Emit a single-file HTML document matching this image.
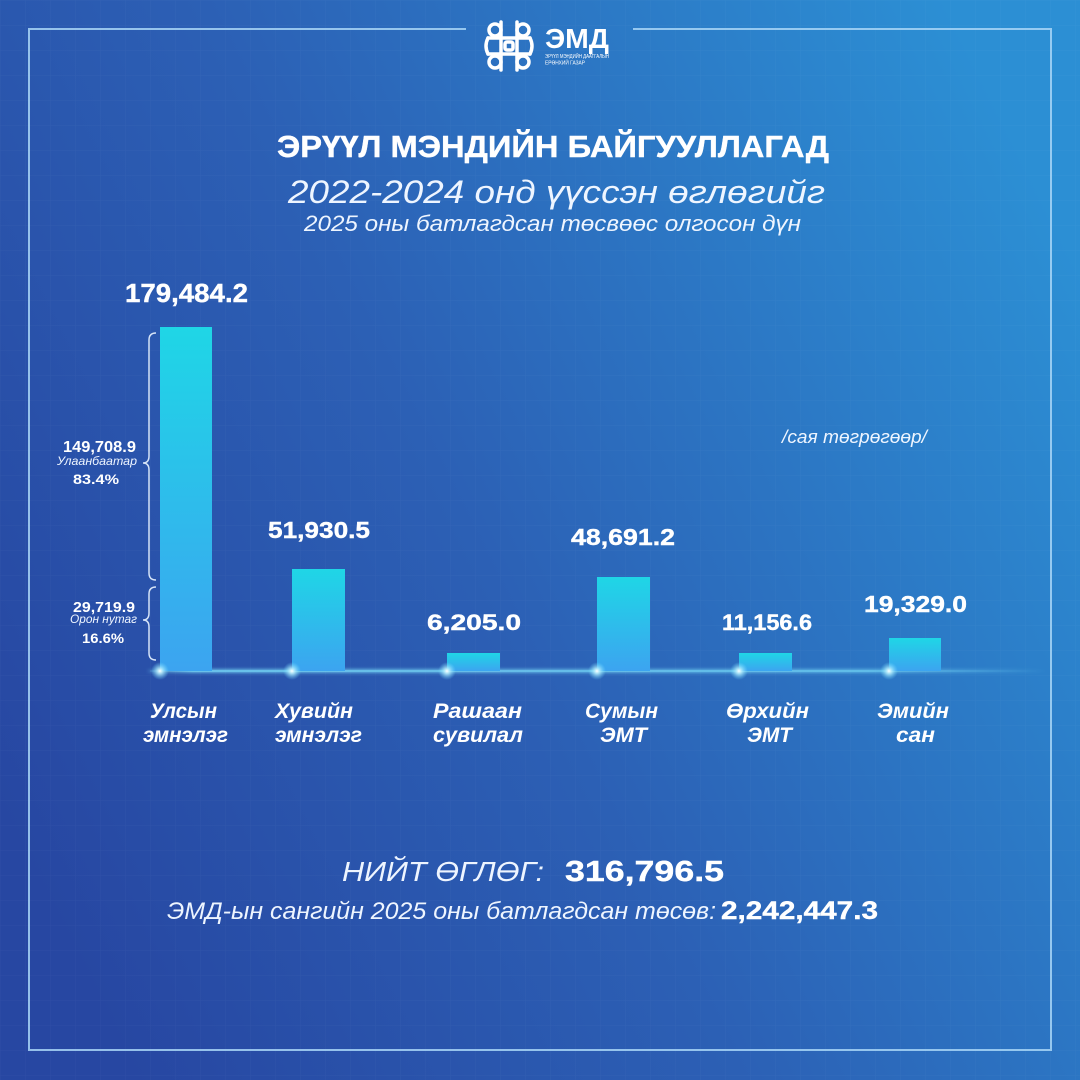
<!DOCTYPE html>
<html>
<head>
<meta charset="utf-8">
<style>
html,body{margin:0;padding:0;width:1080px;height:1080px;overflow:hidden;background:#2c5fb4;}
svg{display:block;}
text{font-family:"Liberation Sans","DejaVu Sans",sans-serif;fill:#ffffff;}
.b{font-weight:bold;}
.i{font-style:italic;}
.lt{fill:#eef5ff;}
.v{stroke:#ffffff;stroke-width:0.4;}
</style>
</head>
<body>
<svg width="1080" height="1080" viewBox="0 0 1080 1080" xmlns="http://www.w3.org/2000/svg">
<defs>
  <linearGradient id="bg" x1="0" y1="0.75" x2="1" y2="0.25">
    <stop offset="0" stop-color="#2747a2"/>
    <stop offset="0.45" stop-color="#2c60b5"/>
    <stop offset="1" stop-color="#2c8fd4"/>
  </linearGradient>
  <pattern id="grid" width="25" height="25" patternUnits="userSpaceOnUse">
    <path d="M25 0 L0 0 0 25" fill="none" stroke="#ffffff" stroke-opacity="0.04" stroke-width="1"/>
  </pattern>
  <linearGradient id="bar" x1="0" y1="0" x2="0" y2="1">
    <stop offset="0" stop-color="#1fd6e6"/>
    <stop offset="1" stop-color="#3ca4f0"/>
  </linearGradient>
  <linearGradient id="base" x1="0" y1="0" x2="1" y2="0">
    <stop offset="0" stop-color="#7fe6ff" stop-opacity="0.2"/>
    <stop offset="0.05" stop-color="#7fe6ff" stop-opacity="0.9"/>
    <stop offset="0.8" stop-color="#7fe6ff" stop-opacity="0.7"/>
    <stop offset="1" stop-color="#7fe6ff" stop-opacity="0"/>
  </linearGradient>
  <radialGradient id="dot">
    <stop offset="0" stop-color="#ffffff" stop-opacity="1"/>
    <stop offset="0.3" stop-color="#bff4ff" stop-opacity="0.8"/>
    <stop offset="1" stop-color="#6fdcff" stop-opacity="0"/>
  </radialGradient>
  <filter id="gl" x="-20%" y="-200%" width="140%" height="500%">
    <feGaussianBlur stdDeviation="1.5"/>
  </filter>
</defs>

<rect width="1080" height="1080" fill="url(#bg)"/>
<rect width="1080" height="1080" fill="url(#grid)"/>

<!-- frame -->
<g stroke="#a9d6f7" stroke-opacity="0.85" stroke-width="2" fill="none">
  <path d="M466 29 L29 29 L29 1050 L1051 1050 L1051 29 L633 29"/>
</g>

<!-- logo -->
<g fill="none" stroke="#ffffff" stroke-width="3.5" stroke-linecap="round">
  <circle cx="495" cy="30" r="6"/>
  <circle cx="523" cy="30" r="6"/>
  <circle cx="495" cy="62" r="6"/>
  <circle cx="523" cy="62" r="6"/>
  <line x1="501" y1="22" x2="501" y2="70"/>
  <line x1="517" y1="22" x2="517" y2="70"/>
  <line x1="488" y1="38" x2="530" y2="38"/>
  <line x1="488" y1="54" x2="530" y2="54"/>
  <path d="M488 38 Q484 46 488 54"/>
  <path d="M530 38 Q534 46 530 54"/>
  <rect x="505" y="42" width="8" height="8" rx="2"/>
</g>
<text x="545" y="48" class="b" font-size="28" textLength="64" lengthAdjust="spacingAndGlyphs">ЭМД</text>
<text x="545" y="58" font-size="5" textLength="64" lengthAdjust="spacingAndGlyphs">ЭРҮҮЛ МЭНДИЙН ДААТГАЛЫН</text>
<text x="545" y="64.5" font-size="5" textLength="40" lengthAdjust="spacingAndGlyphs">ЕРӨНХИЙ ГАЗАР</text>

<!-- titles -->
<text x="277" y="157" class="b v" font-size="31" textLength="552" lengthAdjust="spacingAndGlyphs">ЭРҮҮЛ МЭНДИЙН БАЙГУУЛЛАГАД</text>
<text x="288" y="203" class="i lt" font-size="32" textLength="537" lengthAdjust="spacingAndGlyphs">2022-2024 онд үүссэн өглөгийг</text>
<text x="304" y="231" class="i lt" font-size="22" textLength="497" lengthAdjust="spacingAndGlyphs">2025 оны батлагдсан төсвөөс олгосон дүн</text>

<!-- unit -->
<text x="782" y="443" class="i lt" font-size="18" textLength="145" lengthAdjust="spacingAndGlyphs">/сая төгрөгөөр/</text>

<!-- baseline glow -->
<rect x="148" y="669.5" width="900" height="3" fill="url(#base)" filter="url(#gl)"/>
<rect x="150" y="670.5" width="890" height="1" fill="url(#base)"/>

<!-- bars -->
<rect x="160" y="327" width="52" height="344" fill="url(#bar)"/>
<rect x="292" y="569" width="53" height="102" fill="url(#bar)"/>
<rect x="447" y="653" width="53" height="18" fill="url(#bar)"/>
<rect x="597" y="577" width="53" height="94" fill="url(#bar)"/>
<rect x="739" y="653" width="53" height="18" fill="url(#bar)"/>
<rect x="889" y="638" width="52" height="33" fill="url(#bar)"/>

<!-- glow dots -->
<g>
  <circle cx="160" cy="671" r="9" fill="url(#dot)"/>
  <circle cx="292" cy="671" r="9" fill="url(#dot)"/>
  <circle cx="447" cy="671" r="9" fill="url(#dot)"/>
  <circle cx="597" cy="671" r="9" fill="url(#dot)"/>
  <circle cx="739" cy="671" r="9" fill="url(#dot)"/>
  <circle cx="889" cy="671" r="9" fill="url(#dot)"/>
</g>

<!-- value labels -->
<text x="125" y="302" class="b v" font-size="26" textLength="123" lengthAdjust="spacingAndGlyphs">179,484.2</text>
<text x="268" y="538" class="b v" font-size="23" textLength="102" lengthAdjust="spacingAndGlyphs">51,930.5</text>
<text x="427" y="630" class="b v" font-size="22" textLength="94" lengthAdjust="spacingAndGlyphs">6,205.0</text>
<text x="571" y="545" class="b v" font-size="23" textLength="104" lengthAdjust="spacingAndGlyphs">48,691.2</text>
<text x="722" y="630" class="b v" font-size="22" textLength="90" lengthAdjust="spacingAndGlyphs">11,156.6</text>
<text x="864" y="612" class="b v" font-size="23" textLength="103" lengthAdjust="spacingAndGlyphs">19,329.0</text>

<!-- braces -->
<g fill="none" stroke="#e8f3ff" stroke-opacity="0.9" stroke-width="1.5">
  <path d="M156 333 Q149 333 149 340 L149 456 Q149 463 143 463 Q149 463 149 470 L149 573 Q149 580 156 580"/>
  <path d="M156 587 Q149 587 149 594 L149 613 Q149 620 143 620 Q149 620 149 627 L149 653 Q149 660 156 660"/>
</g>

<!-- annotations -->
<text x="63" y="452" class="b" font-size="16" textLength="73" lengthAdjust="spacingAndGlyphs">149,708.9</text>
<text x="57" y="465" class="i lt" font-size="12" textLength="80" lengthAdjust="spacingAndGlyphs">Улаанбаатар</text>
<text x="73" y="484" class="b" font-size="14" textLength="46" lengthAdjust="spacingAndGlyphs">83.4%</text>
<text x="73" y="612" class="b" font-size="15" textLength="62" lengthAdjust="spacingAndGlyphs">29,719.9</text>
<text x="70" y="623" class="i lt" font-size="12" textLength="67" lengthAdjust="spacingAndGlyphs">Орон нутаг</text>
<text x="82" y="643" class="b" font-size="14" textLength="42" lengthAdjust="spacingAndGlyphs">16.6%</text>

<!-- category labels -->
<g font-size="21">
  <text x="150" y="718" class="b i" textLength="67" lengthAdjust="spacingAndGlyphs">Улсын</text>
  <text x="143" y="742" class="b i" textLength="85" lengthAdjust="spacingAndGlyphs">эмнэлэг</text>
  <text x="275" y="718" class="b i" textLength="78" lengthAdjust="spacingAndGlyphs">Хувийн</text>
  <text x="275" y="742" class="b i" textLength="87" lengthAdjust="spacingAndGlyphs">эмнэлэг</text>
  <text x="433" y="718" class="b i" textLength="89" lengthAdjust="spacingAndGlyphs">Рашаан</text>
  <text x="433" y="742" class="b i" textLength="90" lengthAdjust="spacingAndGlyphs">сувилал</text>
  <text x="585" y="718" class="b i" textLength="73" lengthAdjust="spacingAndGlyphs">Сумын</text>
  <text x="600" y="742" class="b i" textLength="47" lengthAdjust="spacingAndGlyphs">ЭМТ</text>
  <text x="726" y="718" class="b i" textLength="83" lengthAdjust="spacingAndGlyphs">Өрхийн</text>
  <text x="747" y="742" class="b i" textLength="45" lengthAdjust="spacingAndGlyphs">ЭМТ</text>
  <text x="877" y="718" class="b i" textLength="72" lengthAdjust="spacingAndGlyphs">Эмийн</text>
  <text x="896" y="742" class="b i" textLength="39" lengthAdjust="spacingAndGlyphs">сан</text>
</g>

<!-- totals -->
<text x="342" y="881" class="i lt" font-size="28" textLength="202" lengthAdjust="spacingAndGlyphs">НИЙТ ӨГЛӨГ:</text>
<text x="565" y="881" class="b v" font-size="29" textLength="159" lengthAdjust="spacingAndGlyphs">316,796.5</text>
<text x="167" y="919" class="i lt" font-size="24" textLength="549" lengthAdjust="spacingAndGlyphs">ЭМД-ын сангийн 2025 оны батлагдсан төсөв:</text>
<text x="721" y="919" class="b v" font-size="25" textLength="157" lengthAdjust="spacingAndGlyphs">2,242,447.3</text>
</svg>
</body>
</html>
